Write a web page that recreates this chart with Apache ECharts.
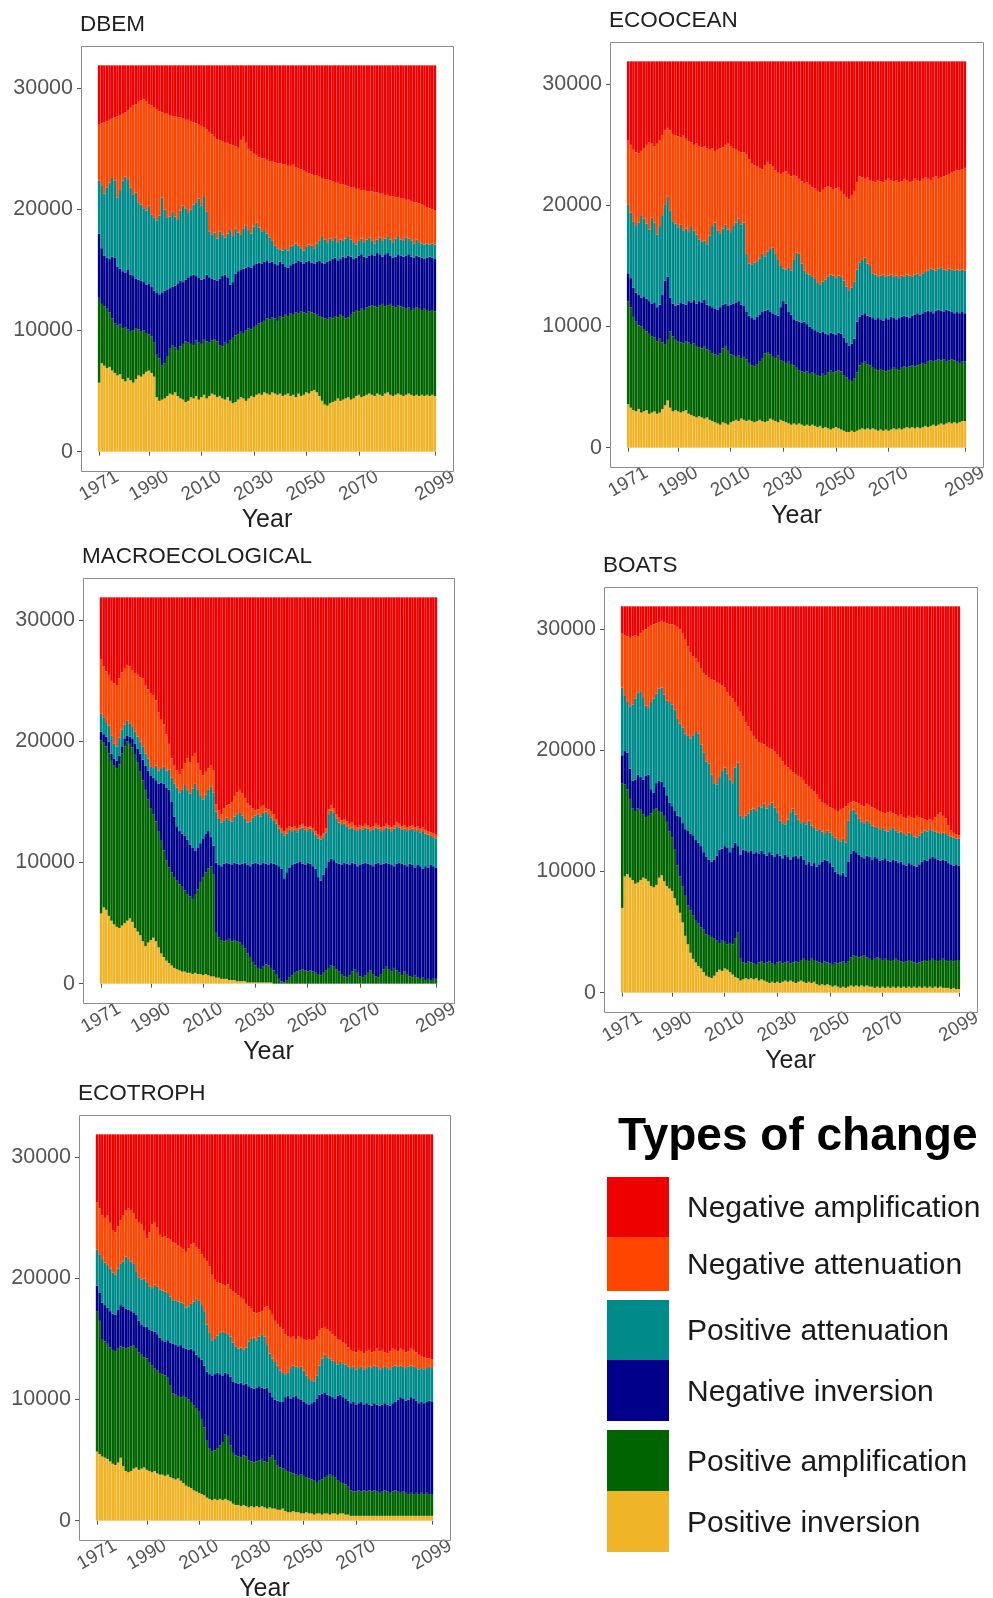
<!DOCTYPE html>
<html>
<head>
<meta charset="utf-8">
<title>Types of change by model</title>
<script src="https://cdn.jsdelivr.net/npm/echarts@6/dist/echarts.min.js"></script>
<style>
  html, body { margin: 0; padding: 0; background: #ffffff; }
  #chart { width: 993px; height: 1598px; }
</style>
</head>
<body>
<div id="chart"></div>
<script>
// ---------------------------------------------------------------
// Number of grid cells per type of change, 1971–2099, per model
// ---------------------------------------------------------------
const years = [];
for (let y = 1971; y <= 2099; y++) years.push(y);

const xTickYears = [1971, 1990, 2010, 2030, 2050, 2070, 2099];
const yTickValues = [0, 10000, 20000, 30000];

// stacking order, bottom to top
const categoryNames = [
  'Positive inversion', 'Positive amplification', 'Negative inversion',
  'Positive attenuation', 'Negative attenuation', 'Negative amplification'
];
const categoryColors = ['#F0B428', '#006400', '#00008B', '#008B8B', '#FF4500', '#EE0000'];

// ---------------- DBEM ----------------
const dbemPositiveInversion = [
5700,7300,7100,6900,7000,6700,6500,6300,6400,6000,
5800,6100,5900,5700,6000,6300,6200,6400,6600,6700,
6500,6200,4500,4200,4300,4400,4600,4800,4700,4900,
4600,4400,4300,4100,4200,4500,4400,4600,4300,4500,
4700,4400,4600,4800,4700,4500,4600,4400,4300,4500,
4200,4000,4100,4300,4500,4400,4200,4400,4600,4500,
4700,4800,4700,4900,4800,4700,4900,4800,4700,4800,
4600,4700,4800,4600,4700,4500,4800,4600,4700,4900,
4800,5000,5100,4900,4600,4200,3900,3800,4000,4100,
4200,4400,4200,4300,4400,4500,4300,4400,4600,4700,
4500,4600,4700,4800,4700,4600,4800,4700,4600,4800,
4900,4700,4600,4700,4800,4700,4600,4700,4800,4700,
4600,4700,4600,4700,4600,4700,4600,4700,4600];
const dbemPositiveAmplification = [
7000,4900,4900,4900,4500,4300,4100,4100,4100,4200,
4500,4000,4000,4300,4200,3800,3700,3600,3200,3000,
3000,2800,3500,3500,2800,2900,3300,3700,4100,3700,
3800,4300,4600,5000,4800,4400,4400,4600,4700,4400,
4600,4700,4400,4400,4600,4600,4200,4300,4700,4400,
5000,5400,5500,5400,5400,5400,5800,5800,5500,5800,
5700,5800,6000,5900,6200,6200,6200,6200,6100,6400,
6500,6600,6400,6800,6600,7000,6600,7000,6800,6500,
6800,6500,6300,6400,6600,6900,7100,7100,7100,6900,
7000,6700,7100,6900,6600,6600,7000,7100,7100,6900,
7300,7100,7200,7200,7400,7400,7100,7400,7600,7200,
7200,7500,7400,7200,7300,7300,7300,7100,7100,7000,
7200,7200,7200,7000,7200,7000,7000,7000,7000];
const dbemNegativeInversion = [
5300,4600,4200,4200,4400,5100,5400,4900,4600,4700,
4500,4900,4700,4500,4100,4100,4200,4000,4000,4200,
4100,4300,5100,5300,6000,6000,5500,5000,4800,5100,
5500,5400,5100,5100,5400,5600,5800,5300,5400,5300,
5000,5500,5400,5100,4900,5000,5500,5800,5600,5500,
4600,4600,5100,5200,5100,5300,5200,5100,5100,5100,
5100,5000,4800,4900,4800,4700,4600,4500,4600,4500,
4400,4000,4000,4000,4200,4100,4400,4100,4000,4300,
4200,4100,4100,4400,4600,4500,4500,4800,4700,4900,
4800,4700,4600,4900,5000,5100,4800,4400,4300,4600,
4500,4400,4100,4200,4200,4200,4500,4200,3900,4300,
4300,4000,4000,4200,4200,4200,4200,4400,4400,4400,
4200,4300,4300,4300,4100,4300,4500,4300,4300];
const dbemPositiveAttenuation = [
4400,5200,5100,5800,6300,6500,6400,5700,6500,7500,
7900,7500,7200,6700,7100,6400,6300,6100,6100,6400,
6000,6000,6000,6500,7900,6700,5900,5900,6200,5700,
5300,5800,6300,5900,5300,5500,5800,6100,6500,6100,
6800,5200,3800,3600,3900,3500,3900,3400,3100,3600,
4500,3800,3700,3200,2900,3300,3500,3000,2800,3200,
3400,2900,2700,2600,2200,2100,1700,1500,1400,1000,
1100,1500,1400,1500,1500,1600,1200,1100,1100,1200,
1300,1400,1300,1500,1600,2200,2000,1600,1800,1500,
1700,1500,1600,1300,1600,1600,1400,1400,1100,1200,
1300,1200,1500,1500,1100,1000,1100,1400,1300,1300,
1400,1300,1300,1500,1500,1300,1300,1500,1300,1300,
1200,1300,1200,1200,1200,1200,1000,1200,1200];
const dbemNegativeAttenuation = [
4600,5100,5900,5500,5200,4900,5200,6700,6200,5500,
5300,5700,6600,7400,7300,8300,8600,9000,9000,8400,
9000,9100,9200,8600,7000,7900,8600,8400,7900,8300,
8400,7700,7200,7300,7700,7300,6800,6500,6100,6600,
5700,6800,8200,8300,7900,8200,7500,7700,7800,7500,
7100,7500,6800,7000,7800,7600,6800,6700,6800,6000,
5600,5800,6000,5900,6100,6300,6600,6900,7000,7100,
7100,6900,7000,6700,6700,6300,6400,6500,6600,6200,
5900,5900,6000,5600,5300,4800,5000,5200,4800,4900,
4500,4900,4600,4700,4400,4100,4300,4500,4600,4300,
4000,4300,4000,3800,4100,4200,3900,3600,3900,3600,
3400,3600,3800,3400,3200,3400,3500,3100,3200,3300,
3400,3100,3200,3200,3200,3000,3000,2800,2800];
const dbemNegativeAmplification = [
4900,4800,4700,4600,4500,4400,4300,4200,4100,4000,
3900,3700,3500,3300,3200,3000,2900,2800,3000,3200,
3300,3500,3600,3800,3900,4000,4000,4100,4200,4200,
4300,4300,4400,4500,4500,4600,4700,4800,4900,5000,
5100,5300,5500,5700,5900,6100,6200,6300,6400,6400,
6500,6600,6700,6800,6200,5900,6400,6900,7100,7300,
7400,7600,7700,7700,7800,7900,7900,8000,8100,8100,
8200,8200,8300,8300,8200,8400,8500,8600,8700,8800,
8900,9000,9100,9100,9200,9300,9400,9400,9500,9600,
9700,9700,9800,9800,9900,10000,10100,10100,10200,10200,
10300,10300,10400,10400,10400,10500,10500,10600,10600,10700,
10700,10800,10800,10900,10900,11000,11000,11100,11100,11200,
11300,11300,11400,11500,11600,11700,11800,11900,12000];

// ---------------- ECOOCEAN ----------------
const ecooceanPositiveInversion = [
3600,3300,3100,3000,3200,2900,3000,3100,2800,2900,
3000,2800,2900,3200,3500,3900,3300,3000,3100,3000,
2900,3000,3100,2800,2700,2600,2500,2600,2500,2400,
2500,2300,2200,2100,2000,1900,2100,2000,1900,2100,
2200,2300,2200,2400,2300,2200,2300,2200,2100,2200,
2300,2200,2100,2200,2400,2300,2200,2100,2300,2200,
2100,2000,1900,2000,1900,2000,1900,1800,1900,1800,
1900,1800,1700,1800,1600,1700,1600,1500,1600,1700,
1600,1500,1400,1300,1300,1400,1300,1400,1500,1600,
1500,1600,1500,1600,1500,1400,1500,1400,1500,1400,
1500,1600,1500,1600,1500,1600,1700,1600,1700,1600,
1700,1600,1700,1800,1700,1800,1900,1800,1900,2000,
1900,2000,2100,2000,2100,2000,2100,2200,2200];
const ecooceanPositiveAmplification = [
8500,8300,7700,7400,6900,7100,6800,6500,6600,6300,
6100,6000,6100,5500,5000,5000,6300,6200,5800,5800,
5800,5600,5700,5900,5800,6000,5900,5700,5700,6000,
5600,5700,5600,5600,5600,5900,6100,6400,6100,5600,
5400,5200,5400,5000,5200,5100,4700,4600,4600,4700,
4800,5200,5700,5700,5300,5200,5200,5500,4900,4900,
4900,5100,5000,4800,4700,4400,4400,4400,4400,4300,
4300,4300,4300,4100,4500,4300,4600,4900,4600,4600,
4800,4800,4600,4500,4300,4100,4400,4800,5300,5400,
5600,5300,5300,5000,5000,5000,5000,5000,4800,5000,
5000,5000,5000,4800,5100,5100,4900,5100,5100,5100,
5100,5300,5300,5100,5400,5400,5200,5400,5400,5200,
5400,5100,5100,5300,5100,5100,4900,4900,4900];
const ecooceanNegativeInversion = [
2300,2400,2400,2400,2500,2400,2700,2700,2700,2700,
2900,2800,2800,3900,5300,5200,2800,2700,2800,3000,
3300,3300,3000,3400,3500,3600,3500,3800,3800,3800,
3700,3700,3800,3800,3800,3800,3600,3500,3700,4100,
4300,4500,4500,4400,4200,3900,3900,3900,3900,3900,
3900,3800,3500,3500,3500,3600,3600,3300,4400,5000,
4900,4100,4100,3800,3900,4000,4000,4200,3900,3900,
3600,3600,3600,3600,3500,3400,3100,3100,3200,3000,
3100,3100,3100,2900,2800,3100,3300,4200,4000,4000,
4000,4000,4000,4100,4100,4300,4100,4100,4400,4200,
4300,4100,4100,4300,4200,4200,4200,4000,4100,4300,
4300,4100,4100,4300,4200,4000,4000,4100,4100,4100,
3900,4300,4100,3900,3900,4100,4100,4100,4000];
const ecooceanPositiveAttenuation = [
5700,5400,5500,5500,6000,6800,6400,6200,5900,7100,
6600,6000,6500,6600,6300,6600,7200,6800,6800,6400,
6400,6000,6300,5700,6300,5700,5700,5100,5000,4900,
5000,5800,6700,7100,6500,6100,6300,6500,6300,6000,
6400,6600,6800,6600,6900,4800,4300,4400,4700,4600,
4600,4800,4500,4800,5200,5400,5000,4600,3400,2700,
2800,3700,3600,4900,5600,5600,4900,4200,4200,4300,
4300,4300,4000,4000,4100,4500,4800,4800,4800,4700,
4700,4700,4700,4600,4600,4600,4700,4300,4500,4500,
4600,4300,4200,3700,3700,3400,3600,3800,3400,3600,
3500,3400,3600,3300,3400,3200,3500,3500,3200,3300,
3300,3200,3300,3300,3300,3600,3600,3300,3400,3600,
3500,3200,3500,3500,3500,3500,3500,3500,3500];
const ecooceanNegativeAttenuation = [
5300,5600,5900,6100,5700,5300,5800,6500,7200,6100,
6300,7500,7100,6600,6100,5700,6600,7200,7300,7500,
7200,7900,7400,7500,6900,7100,7500,7700,7800,7800,
7900,7100,6400,5900,6700,7000,6700,6600,7100,7100,
6400,6000,5600,6000,5800,8200,8600,8400,8000,7800,
7500,7000,7500,7400,7000,6700,6900,7200,7600,7900,
8100,7700,7800,7000,6300,6200,6800,7200,7500,7400,
7400,7400,7600,7600,7600,7600,7500,7200,7100,7400,
7300,7100,7100,7400,7500,7600,7500,7200,7100,6800,
6500,7100,7100,7600,7600,8000,7800,7600,8000,8000,
7800,7900,7900,7900,7800,8100,7800,7700,7900,7900,
7700,7800,7800,7800,7600,7300,7600,7800,7400,7400,
7700,7900,7800,8000,8200,8200,8300,8300,8500];
const ecooceanNegativeAmplification = [
6500,6900,7300,7500,7600,7400,7200,6900,6700,6800,
7000,6800,6500,6100,5700,5500,5700,6000,6100,6200,
6300,6100,6400,6600,6700,6900,6800,7000,7100,7000,
7200,7300,7200,7400,7300,7200,7100,6900,6800,7000,
7200,7300,7400,7500,7500,7700,8100,8400,8600,8700,
8800,8900,8600,8300,8500,8700,9000,9200,9300,9200,
9100,9300,9500,9400,9500,9700,9900,10100,10000,10200,
10400,10500,10700,10800,10600,10400,10300,10400,10600,10500,
10400,10700,11000,11200,11400,11100,10700,10000,9500,9600,
9700,9600,9800,9900,10000,9800,9900,10000,9800,9700,
9800,9900,9800,10000,9900,9700,9800,10000,9900,9700,
9800,9900,9700,9600,9700,9800,9600,9500,9700,9600,
9500,9400,9300,9200,9100,9000,9000,8900,8800];

// ---------------- MACROECOLOGICAL ----------------
const macroPositiveInversion = [
5800,6300,6100,5600,5200,4900,4700,4600,4800,5000,
5200,5400,5100,4600,4300,4000,3500,3100,3400,3600,
3800,3500,3000,2500,2200,1900,1700,1500,1300,1200,
1100,1000,1000,900,900,800,900,800,800,700,
800,700,600,600,500,500,400,400,400,300,
300,300,200,200,200,200,100,100,100,100,
100,100,100,100,100,100,0,0,0,0,
0,0,0,0,0,0,0,0,0,0,
0,0,0,0,0,0,0,0,0,0,
0,0,0,0,0,0,0,0,0,0,
0,0,0,0,0,0,0,0,0,0,
0,0,0,0,0,0,0,0,0,0,
0,0,0,0,0,0,0,0,0];
const macroPositiveAmplification = [
14300,13600,13500,13400,13200,13100,13100,13500,14200,14600,
14800,14400,14400,14300,14000,13500,13300,12900,11800,10900,
10200,9900,9600,9300,8800,8300,7900,7700,7500,7300,
7100,7000,6700,6500,6300,6200,6500,7000,7600,8100,
8400,8800,9100,8400,3700,3300,3200,3100,3200,3400,
3200,3300,3300,3200,3000,2700,2400,2100,1700,1400,
1200,1100,1300,1500,1400,1200,1100,800,400,200,
100,300,500,700,900,1000,1100,1200,1100,1000,
1100,1000,900,800,700,900,1100,1300,1500,1400,
1200,1000,800,600,500,700,1000,1200,900,600,
500,700,900,1100,800,600,500,800,1200,1400,
1200,1000,1300,1100,900,700,1000,800,600,500,
700,500,400,500,300,400,300,400,400];
const macroNegativeInversion = [
700,700,800,1000,600,600,600,700,600,600,
500,600,700,900,1100,1500,1700,2000,2400,2700,
3000,3400,3900,4800,5500,6000,6400,5800,5000,4500,
4400,4400,4500,4500,4300,4200,3600,3400,3200,3200,
3200,3100,2400,2400,5800,6000,6100,6400,6400,6200,
6300,6400,6400,6400,6700,7100,7300,7500,8100,8500,
8600,8600,8600,8300,8300,8700,8800,9000,9300,9300,
8600,8900,9100,9100,9000,9000,9000,8700,8700,9000,
8800,8700,8600,8000,7800,8100,8500,8800,8800,8800,
8800,8900,9000,9400,9400,9100,9000,8700,8800,9200,
9400,9300,9000,8700,8900,9300,9500,9000,8700,8600,
8700,8800,8400,8800,9100,9200,8800,8900,9300,9300,
8900,9300,9300,9000,9400,9200,9500,9300,9200];
const macroPositiveAttenuation = [
1500,1400,1200,1300,1500,1200,1200,1500,1400,1200,
1200,1100,1000,1000,1000,1000,1100,1000,1000,700,
800,1200,1100,1200,1400,1400,1700,2000,2700,3200,
3200,3600,4200,4100,4200,4900,5500,4800,3900,3200,
3200,3400,4200,4400,4200,3800,3600,3600,3700,3600,
3600,3800,4100,4300,4000,3600,3500,3700,3800,3900,
4100,4000,4100,4300,4200,3700,3600,3400,3100,3000,
3500,3200,3100,2800,2800,2500,2700,3000,2900,2600,
2900,2900,2800,3200,3400,3100,2900,3900,4000,3900,
3600,3400,3300,3200,3100,3000,2900,2800,2900,3000,
2800,2900,2900,2800,3000,3000,2800,2800,2800,2900,
2900,2800,3100,3100,2900,2800,3000,2900,2800,3000,
3000,2900,2800,3100,2700,2700,2400,2400,2400];
const macroNegativeAttenuation = [
4500,4200,4200,4200,4500,5000,5000,4900,4700,4600,
4600,4700,4700,4800,5100,5300,5600,5600,5700,6100,
6000,5400,4800,4000,3500,3000,2100,1600,1500,1400,
1500,1700,1800,2600,2600,2700,2500,2200,2100,2000,
1900,1800,1700,1800,600,700,700,1000,1000,1300,
1600,1700,1800,1900,1800,1700,1600,1300,800,400,
400,800,600,300,400,500,500,400,300,300,
400,400,300,300,300,300,300,300,300,300,
200,200,300,300,300,300,300,400,400,400,
400,400,400,400,400,400,400,400,300,300,
300,300,300,300,300,300,300,300,300,300,
300,300,300,300,300,300,300,300,300,300,
300,300,300,300,300,300,300,300,300];
const macroNegativeAmplification = [
5100,5700,6100,6400,6900,7100,7300,6700,6200,5900,
5600,5700,6000,6300,6400,6600,6700,7300,7600,7900,
8100,8500,9500,10100,10500,11300,12100,13300,13900,14300,
14600,14200,13700,13300,13600,13100,12900,13700,14300,14700,
14400,14100,13900,14300,17100,17600,17900,17400,17200,17100,
16900,16400,16100,15900,16200,16600,17000,17200,17400,17600,
17500,17300,17200,17400,17500,17700,17900,18300,18800,19100,
19300,19100,18900,19000,18900,19100,18800,18700,18900,19000,
18900,19100,19300,19600,19700,19500,19100,17500,17200,17400,
17900,18200,18400,18300,18500,18700,18600,18800,19000,18800,
18900,18700,18800,19000,18900,18700,18800,19000,18900,18700,
18800,19000,18800,18600,18700,18900,18800,19000,18900,18800,
19000,18900,19100,19000,19200,19300,19400,19500,19600];

// ---------------- BOATS ----------------
const boatsPositiveInversion = [
7000,9600,9800,9500,9300,9000,9100,9300,9500,9400,
9200,8800,8700,8900,9500,9700,9200,8800,8600,8400,
7800,7200,6600,5800,4700,4000,3300,2800,2500,2200,
2000,1700,1400,1300,1200,1400,1700,1900,1800,2000,
1900,1700,1500,1300,1200,1000,1100,1200,1100,1200,
1100,1200,1000,1100,1000,900,800,900,800,900,
800,900,1000,900,1000,900,800,900,1000,900,
800,900,800,900,700,600,700,600,700,600,
500,600,500,400,500,400,500,600,500,600,
500,600,500,600,500,500,400,500,400,500,
400,500,400,500,400,500,400,500,400,500,
400,500,400,500,400,500,400,500,400,500,
400,500,400,400,400,300,400,300,300];
const boatsPositiveAmplification = [
10300,7600,7000,6500,5900,6000,6100,5800,5200,5100,
5400,6000,6400,6300,5500,5200,5400,5300,4700,4400,
4000,3300,3000,3000,3300,3200,3500,3600,3500,3500,
3400,3500,3400,3400,3400,3100,2600,2200,2500,2200,
2100,2400,2500,3200,3800,1800,1400,1200,1500,1300,
1300,1100,1500,1500,1400,1600,1800,1500,1500,1600,
1800,1500,1500,1700,1400,1600,1800,1600,1700,1900,
1900,1700,2000,1800,1900,1900,1700,2000,1800,1800,
1800,1900,1900,2100,2100,2000,2100,2300,2600,2400,
2400,2400,2600,2300,2300,2200,2400,2400,2400,2200,
2400,2200,2200,2200,2400,2200,2200,2000,2200,2200,
2200,2000,2000,2000,2200,2200,2200,2200,2400,2200,
2200,2200,2400,2300,2200,2400,2200,2400,2400];
const boatsNegativeInversion = [
2300,2800,3000,2500,2300,2600,2800,2700,2900,3400,
3400,2000,1400,2100,2500,2500,2400,2200,2400,2600,
3200,4100,4900,5200,5500,6200,6300,6600,6600,6700,
6700,6400,6400,6300,6200,6500,7000,7700,7600,7900,
8000,7500,8000,7900,7100,8600,9300,9300,9000,9200,
9100,9300,9000,9100,9100,8800,9000,9000,8900,9000,
8700,8700,8900,8600,8600,8700,8700,8600,8600,8200,
7900,8200,7700,8000,7800,8100,8400,8400,8400,8300,
8100,7500,7400,7200,7300,7200,8200,8600,8600,8600,
8500,8200,8000,8400,8400,8300,8400,8200,8100,8300,
8300,8200,8200,8300,8100,8000,8200,8100,7900,8000,
8000,8000,8000,8100,8200,8300,8300,8400,8400,8400,
8400,8200,8200,8200,8100,7900,7900,7900,7800];
const boatsPositiveAttenuation = [
5600,4500,4200,5100,6300,6700,6800,7100,6800,5800,
5500,7200,7800,7400,7600,7800,7600,7800,8300,8400,
8400,8000,7700,7900,7900,7800,7900,8200,9000,9000,
8400,8200,7900,7900,7200,6300,5900,6000,6400,6500,
6100,6000,5300,6200,6900,3200,2600,2900,3200,3400,
3700,3400,3900,3600,4100,3900,3900,4300,4100,3400,
2900,2900,2500,3100,3900,4000,3400,3200,2700,3100,
3300,3400,3300,2900,3000,2900,2500,2100,2500,2500,
2600,2800,2800,2800,2800,2800,3400,3500,3400,3200,
3000,2900,2900,2900,2800,2800,2500,2500,2600,2600,
2300,2400,2700,2600,2500,2500,2500,2500,2500,2500,
2500,2400,2400,2400,2400,2400,2400,2400,2200,2200,
2200,2200,2200,2200,2300,2300,2300,2100,2200];
const boatsNegativeAttenuation = [
4500,5000,5400,5700,5600,5200,4600,4800,5500,6300,
6700,6300,6100,5800,5500,5500,6000,6400,6400,6600,
6900,7600,7800,7800,7800,7400,7100,6600,6000,5900,
6300,6600,7100,7100,7900,8500,8400,7700,7100,6600,
6700,6900,7000,5400,4600,8600,8400,7700,7200,6500,
6000,5900,5300,5300,4900,5100,4700,4400,4600,4800,
5200,5100,4900,4300,3500,3000,3300,3600,3800,3400,
3300,2800,3000,3000,3000,2500,2400,2500,2100,2100,
2200,2300,2400,2600,2500,3000,1400,700,700,900,
1200,1400,1400,1400,1500,1500,1500,1500,1500,1300,
1400,1600,1500,1200,1300,1400,1400,1400,1400,1400,
1400,1500,1800,1500,1200,900,900,800,800,1200,
1500,1800,1400,1300,800,500,400,400,300];
const boatsNegativeAmplification = [
2200,2400,2500,2600,2500,2400,2500,2200,2000,1900,
1700,1600,1500,1400,1300,1200,1300,1400,1500,1500,
1600,1700,1900,2200,2700,3300,3800,4100,4300,4600,
5100,5500,5700,5900,6000,6100,6300,6400,6500,6700,
7100,7400,7600,7900,8300,8700,9100,9600,9900,10300,
10700,11000,11200,11300,11400,11600,11700,11800,12000,12200,
12500,12800,13100,13300,13500,13700,13900,14000,14100,14400,
14700,14900,15100,15300,15500,15900,16200,16300,16400,16600,
16700,16800,16900,16800,16700,16500,16300,16200,16100,16200,
16300,16400,16500,16300,16400,16600,16700,16800,16900,17000,
17100,17000,16900,17100,17200,17300,17200,17400,17500,17300,
17400,17500,17300,17400,17500,17600,17700,17600,17700,17400,
17200,17000,17300,17500,18100,18500,18700,18800,18900];

// ---------------- ECOTROPH ----------------
const ecotrophPositiveInversion = [
5700,5500,5300,5200,5100,4900,4700,4600,4800,5200,
4500,4100,4000,4100,4300,4400,4200,4300,4400,4200,
4100,4000,4100,3900,3800,3800,3700,3800,3600,3500,
3400,3500,3300,3100,2900,2800,2700,2500,2400,2300,
2200,2100,1900,1800,1700,1800,1700,1800,1700,1800,
1700,1600,1400,1300,1300,1200,1300,1200,1100,1200,
1100,1200,1100,1200,1100,1000,1100,1000,1000,900,
900,1000,800,700,700,800,700,700,600,600,
700,600,600,500,600,600,500,600,600,500,
600,600,500,600,600,500,500,400,400,400,
400,400,400,400,400,400,400,400,400,400,
400,400,400,400,400,400,400,400,400,400,
400,400,400,400,400,400,400,400,400];
const ecotrophPositiveAmplification = [
11600,11000,9700,9600,9500,9400,9400,9400,9400,9200,
9800,10100,10300,10300,10200,9800,9700,9400,9100,9200,
9000,8800,8500,8500,8400,8300,8300,8000,7600,7000,
7000,6800,6900,7200,7300,7200,7100,7000,6900,6700,
6200,5600,4700,4200,4000,4000,4300,4400,4800,5300,
5300,4600,4200,4100,4000,4000,4100,4100,3900,3700,
3700,3700,3900,3900,3800,3800,4100,4400,4000,3700,
3500,3300,3400,3400,3300,3100,3100,3000,3200,3100,
2900,2900,2800,2800,2600,2700,2900,3000,3100,3300,
3100,3000,2800,2600,2500,2500,2300,2100,2000,2000,
2100,2000,2100,2000,2100,2000,2100,2000,1900,2000,
2100,2000,1900,2000,2100,2000,1900,2000,1900,1800,
1900,1800,1900,1800,1900,1800,1900,1800,1800];
const ecotrophNegativeInversion = [
2100,2300,3000,3000,3000,3000,3000,3000,3200,3400,
3400,3300,3100,2900,2700,2800,2600,2500,2500,2600,
2700,2900,3000,3000,2900,2800,2800,3100,3500,4100,
4100,4100,4300,4000,4000,4100,4400,4500,4400,4500,
4900,5100,5700,6100,6300,6300,6200,5900,5500,5100,
5100,5700,5900,6000,6000,6200,5800,6000,6100,6100,
6100,6100,6100,5900,6000,6200,5400,4800,5000,5300,
5400,5500,6000,6200,6100,6300,6500,6400,6200,6100,
6100,6100,6300,6500,6900,7100,7100,7000,6700,6500,
6500,6500,7000,7200,7100,7100,7100,7200,7400,7200,
7200,7400,7100,7300,7100,7100,7200,7200,7200,7200,
7200,7200,7200,7300,7300,7600,7900,7700,7600,7800,
7900,7900,7600,7500,7500,7500,7500,7700,7600];
const ecotrophPositiveAttenuation = [
3000,3200,3600,3500,3500,3500,3400,3300,3400,3400,
3700,4300,4200,4100,4000,3600,3600,3700,4000,3700,
3500,3500,3900,3900,4000,4100,4100,3900,3800,3600,
3700,3700,3500,3600,3400,3600,3700,4100,4600,4700,
4500,4500,3900,3400,2900,2900,3100,3400,3600,3300,
3300,3300,3200,3000,2900,2900,2900,3000,3700,4000,
4200,3900,4100,4400,4300,3500,3200,3200,3100,2900,
2600,2400,1900,1900,2500,2600,2400,2500,2700,2600,
2300,2100,1900,1700,1900,2400,2900,3100,3100,3100,
3000,3000,2600,2700,2800,2800,2800,2900,2900,2900,
2900,2900,2900,2900,3100,3100,3100,3100,3000,3000,
3000,3000,3000,3000,3000,2700,2600,2600,2700,2700,
2600,2600,2700,2800,2800,2800,2800,2800,2800];
const ecotrophNegativeAttenuation = [
3900,3800,3600,3700,4100,3800,3500,3500,3500,3600,
3800,3800,4200,4200,4200,4300,4500,4600,4000,3600,
4500,5300,5100,4900,4500,4400,4600,4500,4700,4800,
4700,4600,4600,4500,4600,4800,4900,4800,4300,4200,
4200,4400,5200,5500,5400,4900,4400,4100,3900,3900,
4100,3900,4200,4400,4400,4100,4200,3600,2900,2500,
2100,2200,2000,1900,2400,3200,3600,3600,3400,3400,
3600,3600,3300,3000,2500,2400,2300,2600,2400,2600,
2900,3300,3300,3500,3200,2900,2500,2300,2300,2200,
2200,2100,2100,1800,1700,1700,1600,1500,1300,1400,
1500,1300,1300,1400,1400,1300,1200,1500,1500,1500,
1200,1200,1500,1500,1300,1300,1400,1400,1300,1300,
1400,1400,1300,1200,1000,1000,800,700,700];
const ecotrophNegativeAmplification = [
5600,6100,6700,6900,6700,7300,7900,8100,7600,7100,
6700,6300,6100,6300,6500,7000,7300,7400,7900,8600,
8100,7400,7300,7700,8300,8500,8400,8600,8700,8900,
9000,9200,9300,9500,9700,9400,9100,9000,9300,9500,
9900,10200,10500,10900,11600,12000,12200,12300,12400,12500,
12400,12800,13000,13100,13300,13500,13600,14000,14200,14400,
14700,14800,14700,14600,14300,14200,14500,14900,15400,15700,
15900,16100,16500,16700,16800,16700,16900,16700,16800,16900,
17000,16900,17000,16900,16700,16200,16000,15900,16100,16300,
16500,16700,16900,17000,17200,17300,17600,17800,17900,18000,
17800,17900,18100,17900,17800,18000,17900,17700,17900,17800,
18000,18100,17900,17700,17800,17900,17700,17800,18000,17900,
17700,17800,18000,18200,18300,18400,18500,18500,18600];

const models = [
  { title: 'DBEM', values: [dbemPositiveInversion, dbemPositiveAmplification, dbemNegativeInversion,
      dbemPositiveAttenuation, dbemNegativeAttenuation, dbemNegativeAmplification] },
  { title: 'ECOOCEAN', values: [ecooceanPositiveInversion, ecooceanPositiveAmplification, ecooceanNegativeInversion,
      ecooceanPositiveAttenuation, ecooceanNegativeAttenuation, ecooceanNegativeAmplification] },
  { title: 'MACROECOLOGICAL', values: [macroPositiveInversion, macroPositiveAmplification, macroNegativeInversion,
      macroPositiveAttenuation, macroNegativeAttenuation, macroNegativeAmplification] },
  { title: 'BOATS', values: [boatsPositiveInversion, boatsPositiveAmplification, boatsNegativeInversion,
      boatsPositiveAttenuation, boatsNegativeAttenuation, boatsNegativeAmplification] },
  { title: 'ECOTROPH', values: [ecotrophPositiveInversion, ecotrophPositiveAmplification, ecotrophNegativeInversion,
      ecotrophPositiveAttenuation, ecotrophNegativeAttenuation, ecotrophNegativeAmplification] }
];

// ---------------------------------------------------------------
// Layout (pixels) and styling
// ---------------------------------------------------------------
const FONT = '"Liberation Sans", Arial, Helvetica, sans-serif';
// outer frame of each panel
const panelBoxes = [
  { left: 81,  top: 46,   width: 372, height: 425 },
  { left: 610, top: 42,   width: 373, height: 425 },
  { left: 83,  top: 578,  width: 371, height: 425 },
  { left: 604, top: 587,  width: 373, height: 425 },
  { left: 79,  top: 1115, width: 371, height: 425 }
];
// the frame spans the year bars plus 5% padding on each side
const FRAME_YEAR_SPAN = 141.8;
const Y_MIN = -1595, Y_MAX = 33495;
const isTickYear = (i, v) => xTickYears.indexOf(Number(v)) >= 0;

const grids = [], xAxes = [], yAxes = [], seriesList = [], graphics = [];

models.forEach((m, k) => {
  const b = panelBoxes[k];
  const pxPerYear = b.width / FRAME_YEAR_SPAN;
  const bandWidth = years.length * pxPerYear;
  const pad = (b.width - bandWidth) / 2;

  grids.push({
    left: b.left + pad, top: b.top, width: bandWidth, height: b.height,
    show: false, containLabel: false, outerBoundsMode: 'none'
  });
  xAxes.push({
    type: 'category', gridIndex: k, data: years, boundaryGap: true,
    axisLine: { show: false }, splitLine: { show: false },
    axisTick: { show: true, interval: isTickYear, alignWithLabel: true, length: 4,
      lineStyle: { color: '#555555' } },
    axisLabel: {
      interval: isTickYear, rotate: 30, align: 'center', verticalAlign: 'middle', margin: 15,
      fontSize: 19, fontFamily: FONT, color: '#555555'
    }
  });
  yAxes.push({
    type: 'value', gridIndex: k, min: Y_MIN, max: Y_MAX, offset: pad,
    axisLine: { show: false }, splitLine: { show: false },
    axisTick: { show: true, customValues: yTickValues, length: 4, lineStyle: { color: '#555555' } },
    axisLabel: {
      customValues: yTickValues, margin: 8,
      fontSize: 21.5, fontFamily: FONT, color: '#555555', formatter: v => String(v)
    }
  });
  m.values.forEach((arr, c) => {
    seriesList.push({
      type: 'bar', name: categoryNames[c], xAxisIndex: k, yAxisIndex: k,
      stack: 'model' + k, barWidth: '95%', silent: true,
      itemStyle: { color: categoryColors[c] },
      data: arr
    });
  });
  // panel frame
  graphics.push({
    type: 'rect', z: 50,
    shape: { x: b.left + 0.5, y: b.top + 0.5, width: b.width, height: b.height },
    style: { fill: 'none', stroke: '#8c8c8c', lineWidth: 1 }
  });
  // model name above the panel
  graphics.push({
    type: 'text', x: b.left - 1, y: b.top - 21,
    style: { text: m.title, fill: '#1f1f1f', fontSize: 22.5, fontFamily: FONT,
      align: 'left', verticalAlign: 'middle', textAlign: 'left', textVerticalAlign: 'middle' }
  });
  // x axis title
  graphics.push({
    type: 'text', x: b.left + b.width / 2, y: b.top + b.height + 49,
    style: { text: 'Year', fill: '#1f1f1f', fontSize: 25, fontFamily: FONT,
      align: 'center', verticalAlign: 'middle', textAlign: 'center', textVerticalAlign: 'middle' }
  });
});

// ---------------------------------------------------------------
// Legend: "Types of change"
// ---------------------------------------------------------------
graphics.push({
  type: 'text', x: 618, y: 1137,
  style: { text: 'Types of change', fill: '#000000', fontSize: 46, fontWeight: 'bold', fontFamily: FONT,
    align: 'left', verticalAlign: 'middle', textAlign: 'left', textVerticalAlign: 'middle' }
});
const legendRows = [
  { cat: 5, top: 1177, bottom: 1237 },
  { cat: 4, top: 1237, bottom: 1291 },
  { cat: 3, top: 1300, bottom: 1360 },
  { cat: 2, top: 1360, bottom: 1421 },
  { cat: 1, top: 1430, bottom: 1491 },
  { cat: 0, top: 1491, bottom: 1552 }
];
legendRows.forEach(r => {
  graphics.push({
    type: 'rect', shape: { x: 607, y: r.top, width: 62, height: r.bottom - r.top },
    style: { fill: categoryColors[r.cat] }
  });
  graphics.push({
    type: 'text', x: 687, y: (r.top + r.bottom) / 2 + 2,
    style: { text: categoryNames[r.cat], fill: '#1a1a1a', fontSize: 30, fontFamily: FONT,
      align: 'left', verticalAlign: 'middle', textAlign: 'left', textVerticalAlign: 'middle' }
  });
});

const chart = echarts.init(document.getElementById('chart'), null, { renderer: 'canvas', width: 993, height: 1598 });
chart.setOption({
  backgroundColor: '#ffffff',
  animation: false,
  grid: grids,
  xAxis: xAxes,
  yAxis: yAxes,
  series: seriesList,
  graphic: graphics
});
</script>
</body>
</html>
